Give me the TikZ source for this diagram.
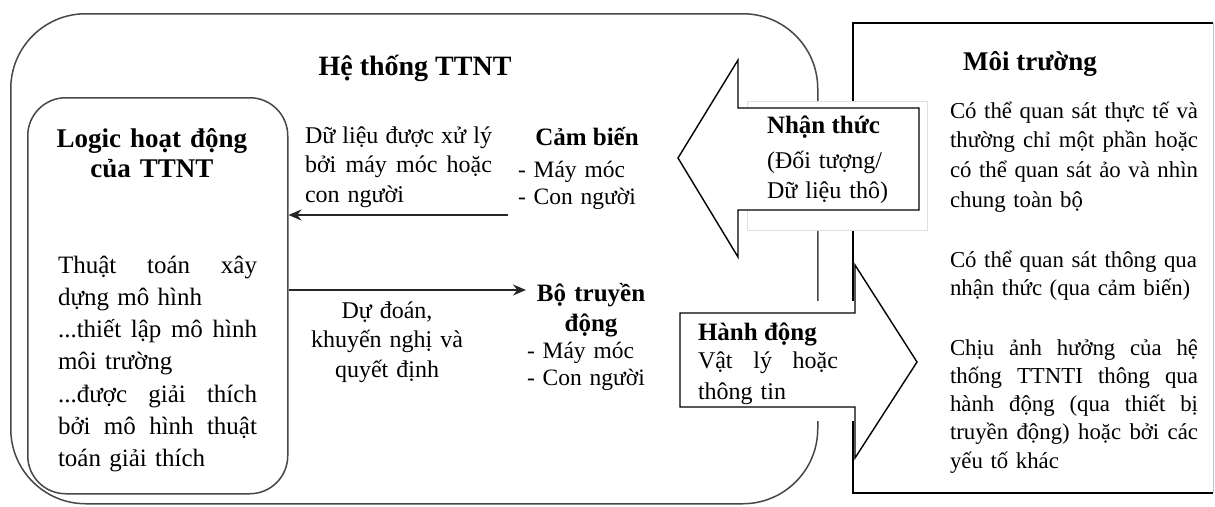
\documentclass[tikz,border=0pt]{standalone}
\usepackage{fontspec}
\setmainfont{Liberation Serif}
\usetikzlibrary{arrows.meta}
\tikzset{
  txt/.style={inner sep=0pt, outer sep=0pt},
  body/.style={txt, font={\fontsize{24}{29.5}\selectfont}},
  head/.style={txt, font={\bfseries\fontsize{27}{30}\selectfont}},
  frame/.style={draw=black!72, line width=1.5pt},
  arrowshape/.style={draw=black, fill=white, line width=1.4pt, line join=miter},
  conn/.style={draw=black!85, line width=1.6pt, -{Stealth[length=13pt,width=11pt]}},
}
\newcommand{\jl}[2]{\leavevmode\hbox to #1{\spaceskip=0.2em plus 1fil\relax\xspaceskip=0.2em plus 1fil\relax #2}}
\begin{document}
\begin{tikzpicture}[x=1pt,y=-1pt]
\fill[white] (0,0) rectangle (1215,506);
\useasboundingbox (0,0) rectangle (1215,506);

% system frame and logic box
\node[frame, rounded corners=75pt, minimum width=807pt, minimum height=490pt, anchor=north west, inner sep=0pt] (sys) at (10,13) {};
\node[frame, rounded corners=38pt, minimum width=260pt, minimum height=396pt, anchor=north west, inner sep=0pt] (logic) at (27,97) {};

% environment box
\draw[gray!45, line width=0.8pt] (1213,23) -- (1213,493);
\draw[black, line width=2.2pt] (1213,23) -- (853,23) -- (853,493) -- (1213,493);

% text box behind perception arrow
\draw[gray!25, fill=white, line width=0.8pt] (747,101) rectangle (927,230);
% invisible text box behind action arrow
\fill[white] (700,301) rectangle (856,421);

% big arrows
\draw[arrowshape] (678,158) -- (738,60) -- (738,108) -- (919,108) -- (919,210) -- (738,210) -- (738,257) -- cycle;
\draw[arrowshape] (680,313) -- (855,313) -- (855,265) -- (917,362) -- (855,458) -- (855,407) -- (680,407) -- cycle;

% titles
\node[txt, font={\bfseries\fontsize{28}{30}\selectfont}, anchor=base] (systitle) at (415,75) {Hệ thống TTNT};
\node[head, text width=240pt, align=center, anchor=base] (logictitle) at (152,147) {Logic hoạt động\\của TTNT};
\node[body, text width=205pt, align=left, anchor=base west, font={\fontsize{25}{32.3}\selectfont}] (logicbody) at (58,273)
  {\jl{199pt}{Thuật toán xây}\\dựng mô hình\\\jl{199pt}{...thiết lập mô hình}\\môi trường\\\jl{199pt}{...được giải thích}\\\jl{199pt}{bởi mô hình thuật}\\toán giải thích};

% sensor side
\node[body, text width=195pt, align=left, anchor=base west] (datatext) at (305,143)
  {\jl{187pt}{Dữ liệu được xử lý}\\\jl{187pt}{bởi máy móc hoặc}\\con người};
\node[txt, font={\bfseries\fontsize{25}{28}\selectfont}, anchor=base] (sensor) at (587,145) {Cảm biến};
\node[body, text width=170pt, align=left, anchor=base west, font={\fontsize{23.5}{27}\selectfont}] (sensorlist) at (518,177) {- Máy móc\\- Con người};

% actuator side
\node[body, text width=200pt, align=center, anchor=base] (predtext) at (387,318) {Dự đoán,\\khuyến nghị và\\quyết định};
\node[txt, text width=160pt, align=center, anchor=base, font={\bfseries\fontsize{25}{30}\selectfont}] (actuator) at (591,301) {Bộ truyền\\động};
\node[body, text width=170pt, align=left, anchor=base west, font={\fontsize{23.5}{27}\selectfont}] (actlist) at (527,358) {- Máy móc\\- Con người};

% connectors
\coordinate (sIn) at (508,215);
\coordinate (aIn) at (526,290);
\draw[conn] (sIn) -- (logic.east |- sIn);
\draw[conn] (logic.east |- aIn) -- (aIn);

% perception arrow text
\node[txt, font={\bfseries\fontsize{25}{28}\selectfont}, anchor=base west] (percept) at (767,133) {Nhận thức};
\node[body, text width=150pt, align=left, anchor=base west, font={\fontsize{24}{30}\selectfont}] (percepttext) at (767,168) {(Đối tượng/\\Dữ liệu thô)};

% action arrow text
\node[txt, font={\bfseries\fontsize{25}{28}\selectfont}, anchor=base west] (action) at (698,340) {Hành động};
\node[body, text width=150pt, align=left, anchor=base west, font={\fontsize{24}{31}\selectfont}] (actiontext) at (698,368) {\jl{140pt}{Vật lý hoặc}\\thông tin};

% environment text
\node[txt, font={\bfseries\fontsize{27}{30}\selectfont}, anchor=base] (envtitle) at (1030,70) {Môi trường};
\node[body, text width=262pt, align=left, anchor=base west, font={\fontsize{22.8}{29.7}\selectfont}] (env1) at (950,118)
  {\jl{248pt}{Có thể quan sát thực tế và}\\\jl{248pt}{thường chỉ một phần hoặc}\\\jl{248pt}{có thể quan sát ảo và nhìn}\\chung toàn bộ};
\node[body, text width=262pt, align=left, anchor=base west, font={\fontsize{22.8}{28}\selectfont}] (env2) at (950,267)
  {Có thể quan sát thông qua\\nhận thức (qua cảm biến)};
\node[body, text width=262pt, align=left, anchor=base west, font={\fontsize{22.8}{28.3}\selectfont}] (env3) at (950,355)
  {\jl{248pt}{Chịu ảnh hưởng của hệ}\\\jl{248pt}{thống TTNTI thông qua}\\\jl{248pt}{hành động (qua thiết bị}\\\jl{248pt}{truyền động) hoặc bởi các}\\yếu tố khác};
\end{tikzpicture}
\end{document}
